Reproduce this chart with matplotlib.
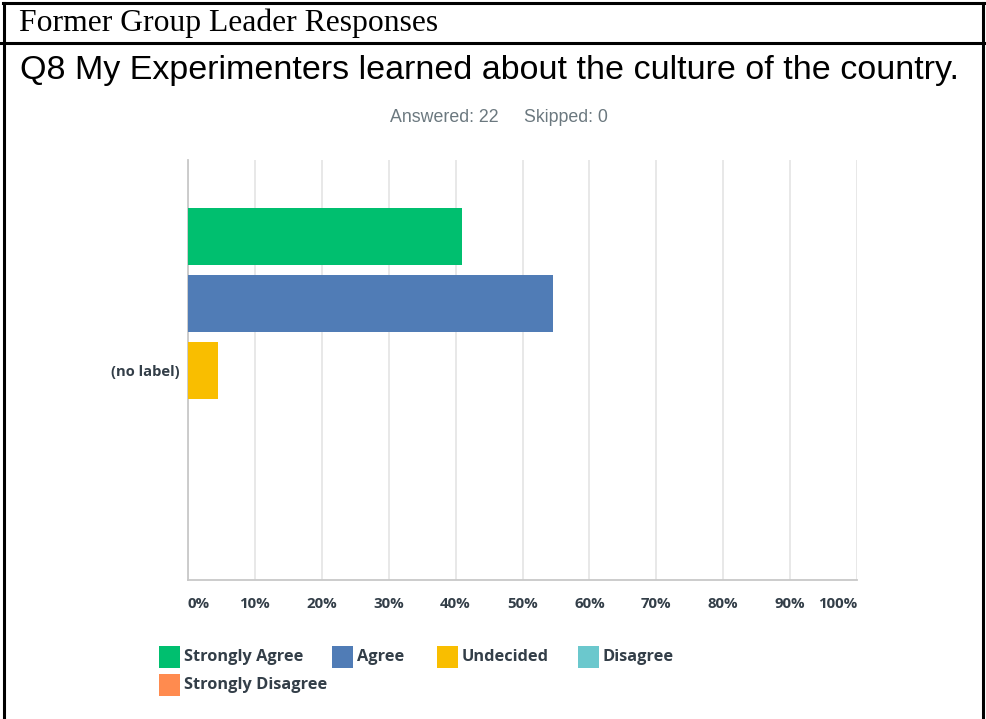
import matplotlib.pyplot as plt
from matplotlib.patches import Rectangle
import numpy as np

# survey answers (share of respondents, %)
answers = ['Strongly Agree', 'Agree', 'Undecided', 'Disagree', 'Strongly Disagree']
percent = [40.91, 54.55, 4.55, 0.0, 0.0]
bar_colors = ['#00BF6F', '#507CB6', '#F9BE00', '#6BC8CD', '#FF8B4F']
answered = 22
skipped = 0
xticks = [0, 10, 20, 30, 40, 50, 60, 70, 80, 90, 100]
xtick_labels = ['0%', '10%', '20%', '30%', '40%', '50%', '60%', '70%', '80%', '90%', '100%']

W, H = 986, 719
fig = plt.figure(figsize=(W / 100, H / 100), dpi=100)

# table frame around the chart
frame = dict(color='black', lw=2.2, transform=fig.transFigure, clip_on=False)
def px(x, y):
    return x / W, 1 - y / H
fig.add_artist(plt.Line2D([px(4, 0)[0], px(4, 0)[0]], [px(0, 3)[1], 0], **frame))
fig.add_artist(plt.Line2D([px(983, 0)[0], px(983, 0)[0]], [px(0, 3)[1], 0], **frame))
fig.add_artist(plt.Line2D([px(3, 0)[0], px(984, 0)[0]], [px(0, 3)[1]] * 2, **frame))
fig.add_artist(plt.Line2D([px(0, 0)[0], px(984, 0)[0]], [px(0, 43)[1]] * 2, **frame))

fig.text(*px(19, 23), 'Former Group Leader Responses', family='Liberation Serif',
         fontsize=22.8, va='center', ha='left')
fig.text(*px(490, 70), 'Q8 My Experimenters learned about the culture of the country.',
         family='Liberation Sans', fontsize=24.5, va='center', ha='center')
fig.text(*px(444, 118), f'Answered: {answered}', family='Liberation Sans',
         fontsize=12.8, color='#6B787F', va='center', ha='center')
fig.text(*px(566, 118), f'Skipped: {skipped}', family='Liberation Sans',
         fontsize=12.8, color='#6B787F', va='center', ha='center')

# bar chart area
x0, x1, y0, y1 = 188, 857, 160, 580
ax = fig.add_axes([x0 / W, 1 - y1 / H, (x1 - x0) / W, (y1 - y0) / H])
pos = np.arange(len(answers))
ax.barh(pos, percent, height=0.85, color=bar_colors, zorder=3)
ax.set_xlim(0, 100)
ax.set_ylim(5.13, -1.14)
ax.set_xticks(xticks)
ax.set_xticklabels(xtick_labels, family='Open Sans', fontweight='bold',
                   fontsize=10.8, color='#333E48')
labels = ax.get_xticklabels()
labels[0].set_horizontalalignment('left')
labels[-1].set_horizontalalignment('right')
ax.tick_params(axis='x', length=0, pad=12)
ax.set_yticks([2])
ax.set_yticklabels(['(no label)'], family='Open Sans', fontweight='bold',
                   fontsize=10.6, color='#333E48')
ax.tick_params(axis='y', length=0, pad=6)
ax.grid(axis='x', color='#E6E6E6', lw=1.3, zorder=0)
for s in ['top', 'right']:
    ax.spines[s].set_visible(False)
ax.spines['left'].set_color('#C8C8C8')
ax.spines['bottom'].set_color('#C8C8C8')
ax.spines['left'].set_linewidth(1.3)
ax.spines['bottom'].set_linewidth(1.3)

# legend swatches
legend_pos = [(159, 657), (332, 657), (437, 657), (578, 657), (159, 685)]
for (lx, ly), name, c in zip(legend_pos, answers, bar_colors):
    fx, fy = px(lx, ly + 11)
    fig.add_artist(Rectangle((fx, fy), 21 / W, 22 / H, transform=fig.transFigure,
                             facecolor=c, edgecolor='none'))
    fig.text(*px(lx + 25, ly), name, family='Open Sans', fontweight='bold',
             fontsize=11.8, color='#333E48', va='center', ha='left')

fig.savefig('out.png', dpi=100)
